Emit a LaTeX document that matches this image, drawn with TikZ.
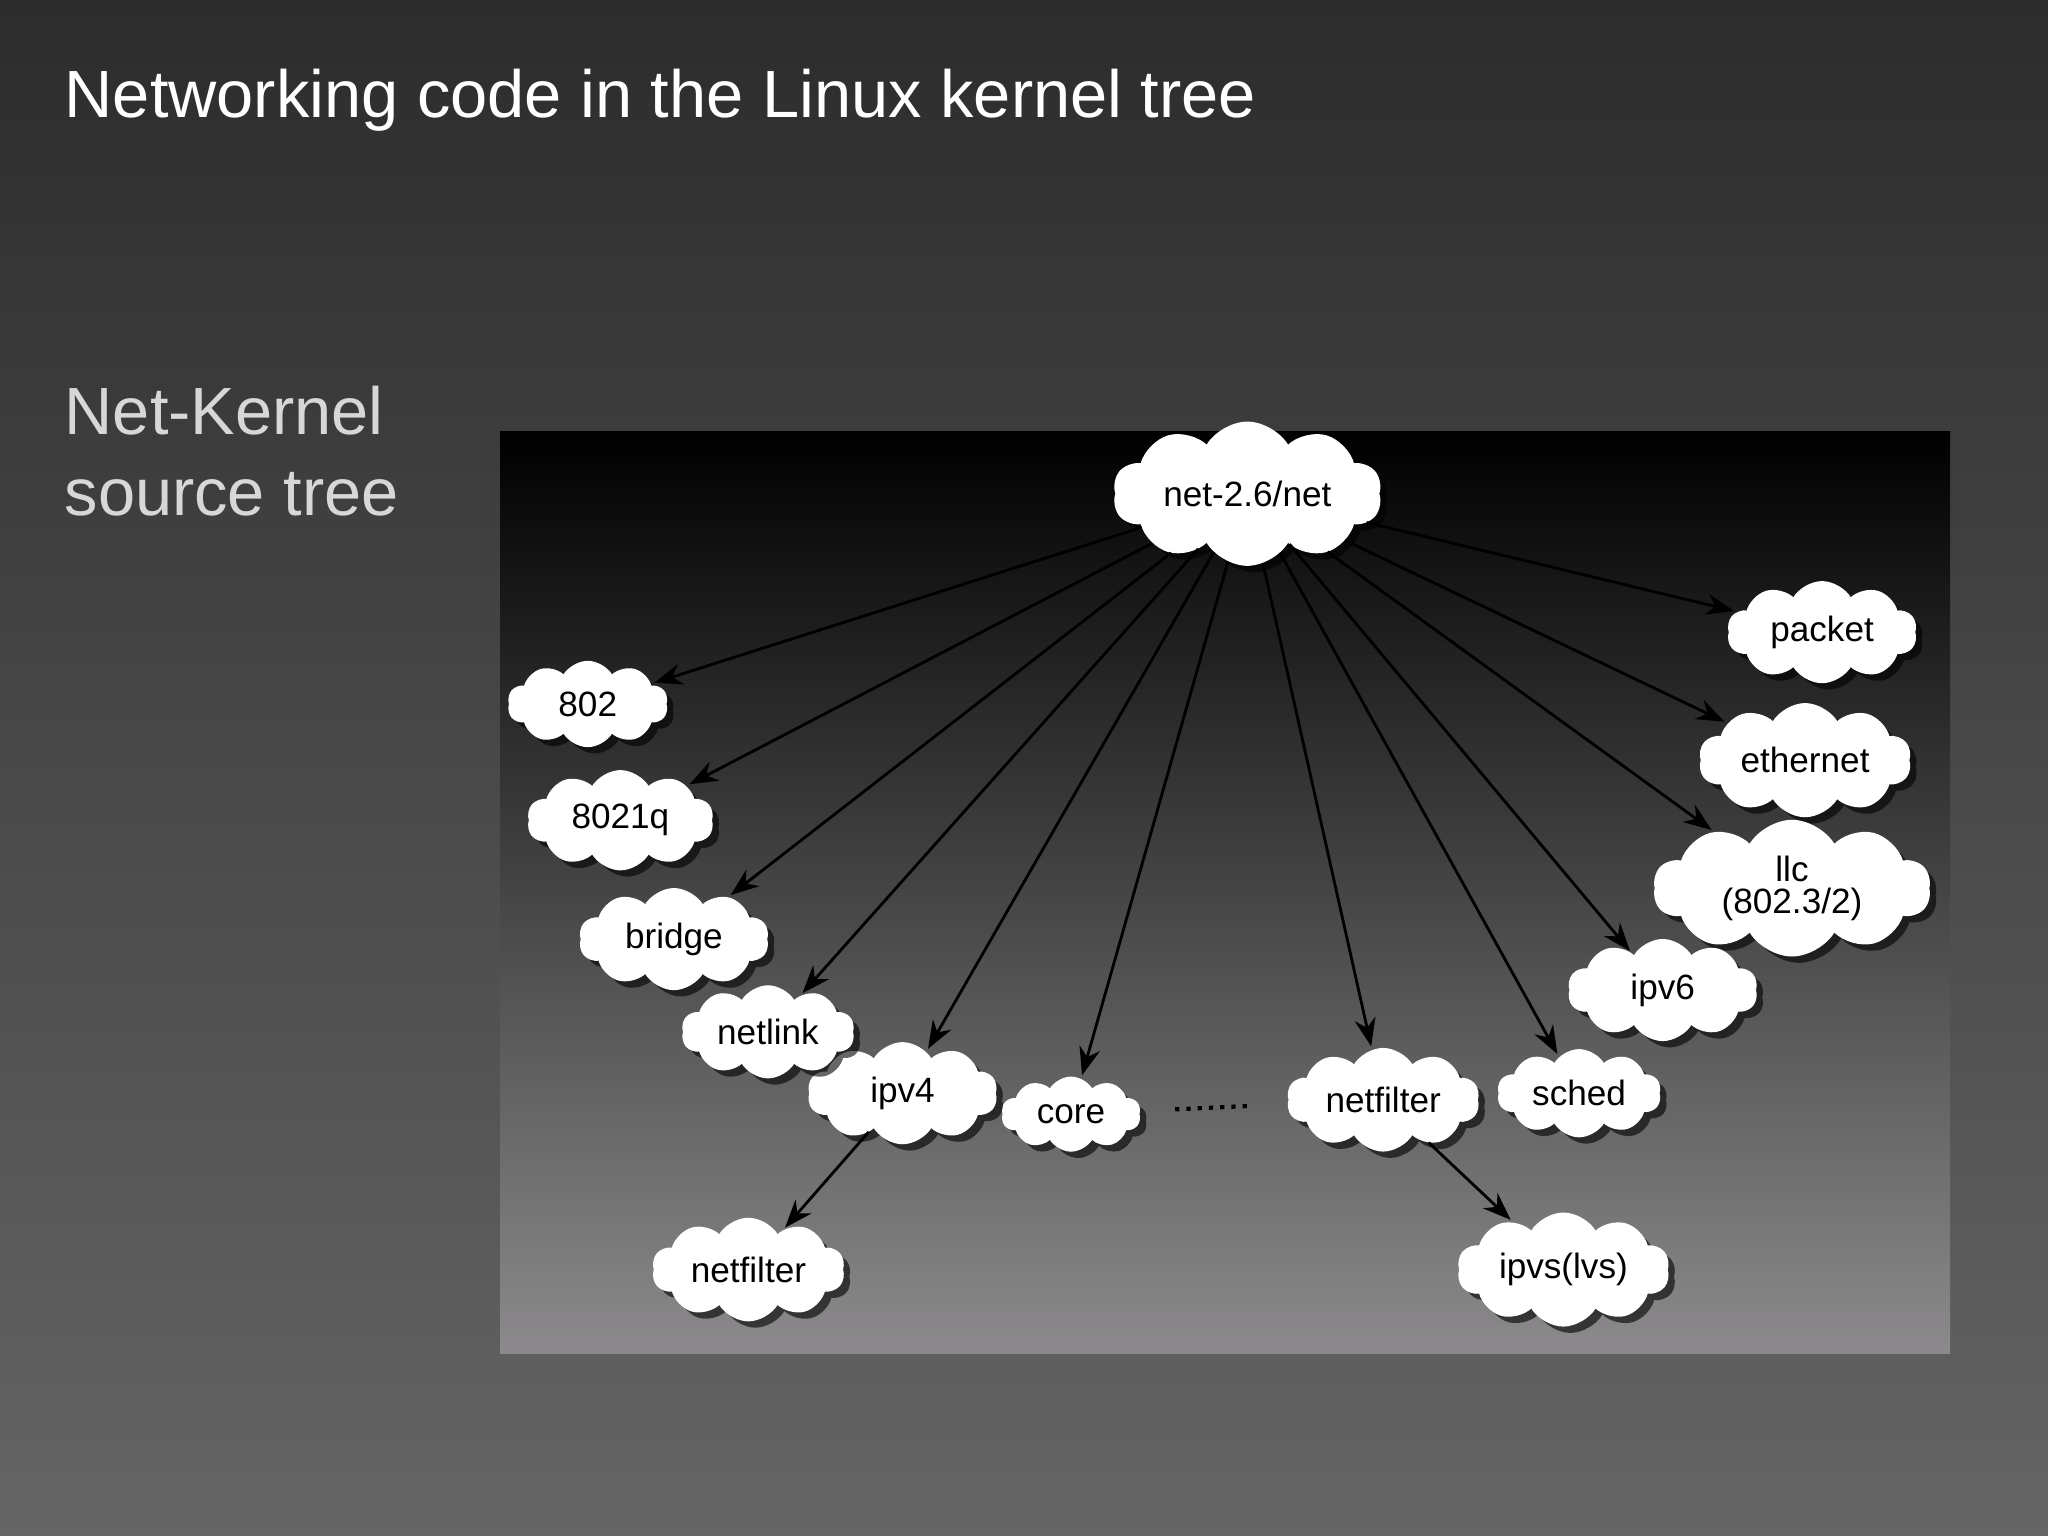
\documentclass[tikz,border=0pt]{standalone}
\usepackage{fontspec}
\setmainfont{Liberation Sans}
\usetikzlibrary{shapes.symbols,shadows,arrows.meta}
\tikzset{
  leaf/.style={cloud, cloud puffs=10, cloud puff arc=120, aspect=2.6, fill=white, draw=white,
    inner sep=2.5pt, font=\fontsize{10}{10}\selectfont, align=center,
    drop shadow={shadow xshift=2pt, shadow yshift=-2pt, fill=black, opacity=.6}},
  link/.style={-{Stealth[length=8pt,width=6pt]}, thick, black, shorten >=1pt}
}
\begin{document}
\begin{tikzpicture}[x=0.01306cm,y=-0.01306cm]
    \useasboundingbox (0,0) rectangle (1568,1176);
    \shade[top color={rgb,255:red,44;green,44;blue,44}, bottom color={rgb,255:red,102;green,101;blue,102}] (0,0) rectangle (1568,1176);
    \shade[top color=black, bottom color={rgb,255:red,140;green,138;blue,140}] (383,330) rectangle (1493,1036);
    \node[anchor=west, text=white, font=\fontsize{19}{22}\selectfont] (title) at (40,77) {Networking code in the Linux kernel tree};
    \node[anchor=north west, text={rgb,255:red,215;green,215;blue,215}, align=left, font=\fontsize{19}{23}\selectfont] (sub) at (40,286) {Net-Kernel\\source tree};
    
    \node[leaf] (net) at (955,378) {net-2.6/net};
    \node[leaf] (packet) at (1395,484) {packet};
    \node[leaf] (ethernet) at (1382,582) {ethernet};
    \node[leaf, aspect=3, inner sep=0pt] (llc) at (1372,680) {llc\\[-1pt](802.3/2)};
    \node[leaf] (ipvsix) at (1273,758) {ipv6};
    \node[leaf] (sched) at (1209,837) {sched};
    \node[leaf] (nfright) at (1059,842) {netfilter};
    \node[leaf] (ipvs) at (1197,972) {ipvs(lvs)};
    \node[leaf] (core) at (820,853) {core};
    \node[leaf] (ipvfour) at (691,837) {ipv4};
    \node[leaf] (nfleft) at (573,972) {netfilter};
    \node[leaf] (netlink) at (588,790) {netlink};
    \node[leaf] (bridge) at (516,719) {bridge};
    \node[leaf] (eightq) at (475,628) {8021q};
    \node[leaf] (eight) at (450,539) {802};
    
    %%%%%%%%%%%%%%%%%%%%%%%%%%%%%%%%%%%%%%%%
    
    \foreach \n in {packet,ethernet,llc,ipvsix,sched,nfright,core,ipvfour,netlink,bridge,eightq,eight}
        \draw[link] (net) -- (\n);
    \draw[link] (ipvfour) -- (nfleft);
    \draw[link] (nfright) -- (ipvs);
    
    \draw[dotted, very thick, black, shorten <=10pt, shorten >=10pt] (core) -- (nfright);
    
\end{tikzpicture}
\end{document}
